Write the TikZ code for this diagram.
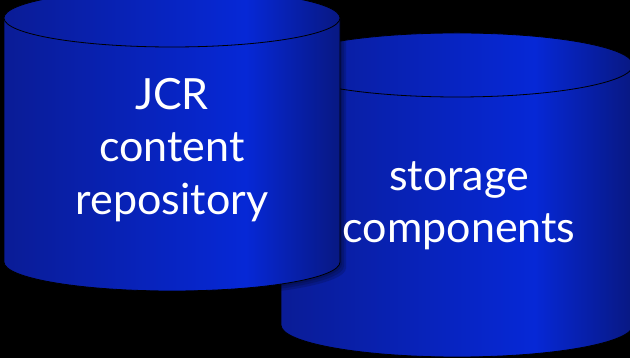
\documentclass[tikz,border=0pt]{standalone}
\usepackage{fontspec}
\setmainfont{Lato}
\usetikzlibrary{calc}

\definecolor{drumdark}{RGB}{10,28,150}
\definecolor{drumlight}{RGB}{6,40,214}
\definecolor{drumedge}{RGB}{8,24,130}
\pgfdeclarehorizontalshading{drum}{100bp}{color(0bp)=(drumdark); color(25bp)=(drumdark); color(61bp)=(drumlight); color(75bp)=(drumedge); color(100bp)=(drumedge)}

% drum: centre x, top y, bottom y, radius x, radius y
\newcommand{\drum}[5]{%
  \shade[shading=drum, draw=black, line width=0.8pt]
    (#1-#4,#2) -- (#1-#4,#3) arc[start angle=180, end angle=360, x radius=#4, y radius=#5]
    -- (#1+#4,#2) arc[start angle=0, end angle=180, x radius=#4, y radius=#5] -- cycle;
  \shade[shading=drum, draw=black, line width=0.8pt] (#1,#2) ellipse[x radius=#4, y radius=#5];
}

\begin{document}
\begin{tikzpicture}[x=1pt, y=1pt,
    drumtext/.style={text=white, align=center, inner sep=0pt, font=\fontsize{43}{52.5}\selectfont}]
    \fill[black] (0,0) rectangle (630,358);
    \clip (0,0) rectangle (630,358);
    % back drum
    \drum{457}{293}{33}{176}{32}
    % shadow of the front drum
    \foreach \d/\o in {2/0.15,4/0.15,6/0.15}
        \fill[black, opacity=\o] (172-168+\d,340-\d) -- (172-168+\d,96-\d)
            arc[start angle=180, end angle=360, x radius=168, y radius=29] -- (172+168+\d,340-\d) -- cycle;
    % front drum
    \drum{172}{340}{96}{168}{29}
    \node[drumtext] (jcr) at (172,208) {JCR\\content\\repository};
    \node[drumtext] (store) at (459,152) {storage\\components};
\end{tikzpicture}
\end{document}
